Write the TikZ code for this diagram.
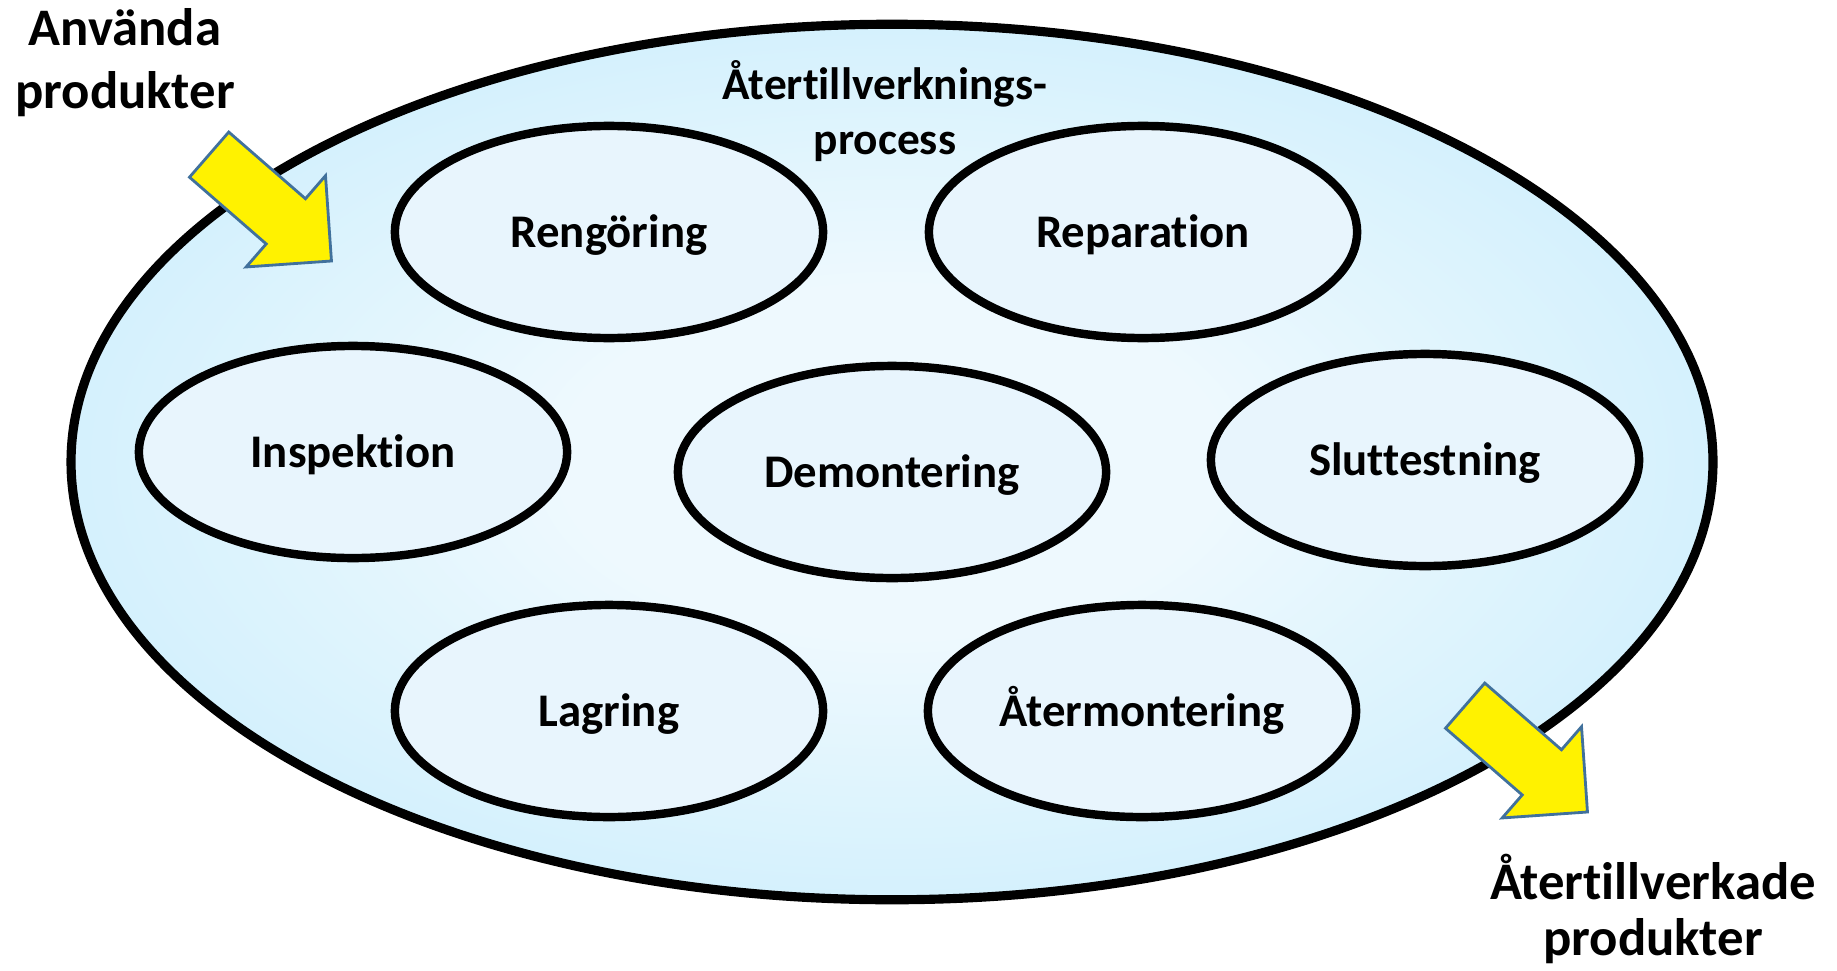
\documentclass[tikz,border=0pt]{standalone}
\usepackage{fontspec}
\setmainfont{Carlito}[Ligatures={NoCommon,NoContextual,NoRare,NoRequired},Contextuals=NoAlternate]
\usetikzlibrary{shapes.geometric,shapes.arrows}

\definecolor{stepfill}{HTML}{E8F5FD}
\definecolor{corewhite}{HTML}{EEF9FE}
\definecolor{midcyan}{HTML}{CCEEFC}
\definecolor{rimblue}{HTML}{B5CEE7}
\definecolor{arrowline}{HTML}{41719C}
\pgfdeclareradialshading{procshade}{\pgfpoint{0bp}{0bp}}{%
  color(0bp)=(corewhite); color(10bp)=(corewhite); color(30bp)=(midcyan);
  color(50bp)=(rimblue); color(100bp)=(rimblue)}
\newcommand{\stepfont}{\fontsize{13.3}{16}\selectfont\bfseries}
\newcommand{\titlefont}{\fontsize{12.9}{15.8}\selectfont\bfseries}
\newcommand{\labelfont}{\fontsize{15}{17.9}\selectfont\bfseries}

\begin{document}
\begin{tikzpicture}[x=0.01cm,y=-0.01cm,
   procoval/.style={ellipse,draw,line width=2.6pt,shading=procshade,
      minimum width=16.41cm,minimum height=8.75cm,inner sep=0pt},
   stepoval/.style={ellipse,draw,line width=2.4pt,fill=stepfill,
      minimum width=4.28cm,minimum height=2.12cm,inner sep=0pt,
      text height=8.6pt,text depth=0pt,font=\stepfont},
   flowarrow/.style={single arrow,draw=arrowline,line width=0.8pt,fill=yellow,
      inner xsep=0pt,inner ysep=0.285cm,single arrow head extend=0.305cm,
      minimum height=1.62cm,rotate=-41},
   endlabel/.style={align=center,font=\labelfont}]
   \useasboundingbox (0,0) rectangle (1837,970);
   \node[procoval] (proc) at (892,462) {};
   \node[flowarrow] (inarrow)  at (259,198) {};
   \node[flowarrow] (outarrow) at (1515,749) {};
   \node[align=center,font=\titlefont] (title) at (885,111) {Återtillverknings-\\process};
   \node[stepoval] (rengoring)   at (609,232)  {Rengöring};
   \node[stepoval] (reparation)  at (1143,232) {Reparation};
   \node[stepoval] (inspektion)  at (353,452)  {Inspektion};
   \node[stepoval] (demontering) at (892,472)  {Demontering};
   \node[stepoval] (sluttest)    at (1425,460) {Sluttestning};
   \node[stepoval] (lagring)     at (609,711)  {Lagring};
   \node[stepoval] (atermont)    at (1142,711) {Återmontering};
   \node[endlabel] (inlabel)  at (125,63)  {Använda\\produkter};
   \node[endlabel,font=\fontsize{15}{15.9}\selectfont\bfseries] (outlabel) at (1653,909) {Återtillverkade\\produkter};
\end{tikzpicture}
\end{document}
